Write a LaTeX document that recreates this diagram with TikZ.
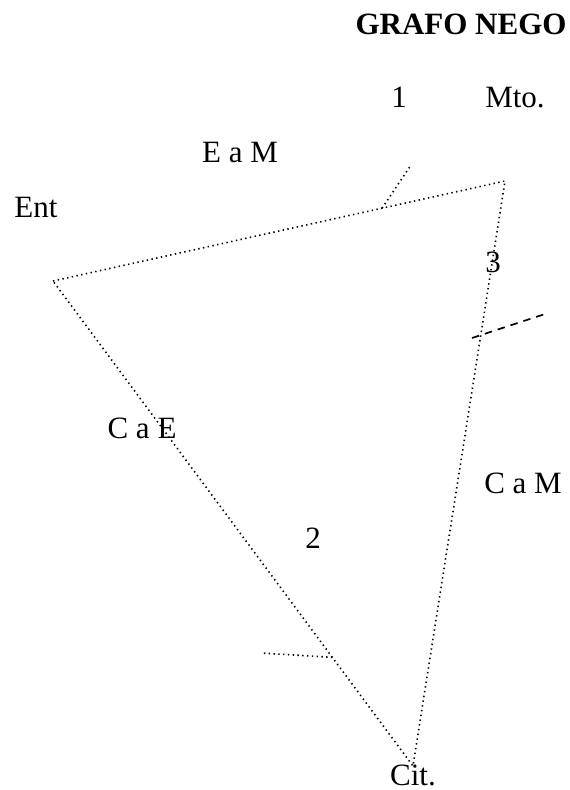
\documentclass[tikz,border=0pt]{standalone}
\usepackage{fontspec}
\setmainfont{Liberation Serif}
\usetikzlibrary{positioning,calc}

\begin{document}
\begin{tikzpicture}[
    x=1pt, y=-1pt,
    dotline/.style={line width=1.6pt, dash pattern=on 1.4pt off 3.4pt},
    cutline/.style={line width=1.7pt, dash pattern=on 7.5pt off 6pt},
    lbl/.style={anchor=base, inner sep=0pt, font=\fontsize{31}{37}\selectfont},
  ]
  \useasboundingbox (0,0) rectangle (570,790);

  % Title
  \node[lbl, font=\fontsize{31}{37}\selectfont\bfseries] (title) at (461,34) {GRAFO NEGO};

  % Vertices of the graph
  \coordinate (ent) at (53,281);
  \coordinate (mto) at (505,181);
  \coordinate (cit) at (413,766);

  % Edges
  \draw[dotline] (ent) -- (mto) -- (cit) -- cycle;

  % Ticks on the edges
  \path (ent) -- (mto) coordinate[pos=0.728] (t1);
  \coordinate (t1e) at (411,165);
  \draw[dotline] (t1) -- (t1e);

  \path (ent) -- (cit) coordinate[pos=0.776] (t2);
  \coordinate (t2e) at (261,653);
  \draw[dotline] (t2) -- (t2e);

  % Cut on the right edge
  \coordinate (c1) at (472,338);
  \coordinate (c2) at (545,314);
  \draw[cutline] (c1) -- (c2);

  % Labels
  \node[lbl] (one)  at (399,107) {1};
  \node[lbl] (mtol) at (515,107) {Mto.};
  \node[lbl] (eam)  at (240,162) {E a M};
  \node[lbl] (entl) at (36,217)  {Ent};
  \node[lbl] (three) at (493,272) {3};
  \node[lbl] (cae)  at (142,438) {C a E};
  \node[lbl] (cam)  at (523,493) {C a M};
  \node[lbl] (two)  at (313,548) {2};
  \node[lbl] (citl) at (413,785) {Cit.};

\end{tikzpicture}
\end{document}
